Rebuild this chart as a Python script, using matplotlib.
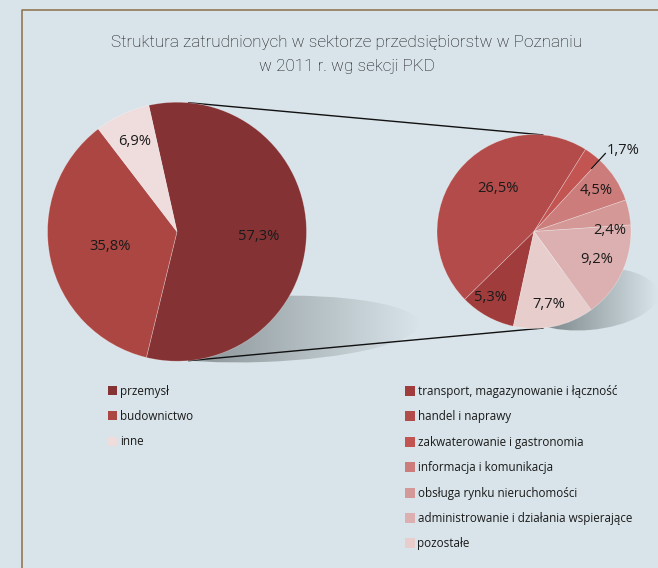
import numpy as np
import matplotlib
matplotlib.use("Agg")
import matplotlib.pyplot as plt
from matplotlib.patches import Ellipse, Rectangle
from matplotlib.colors import LinearSegmentedColormap

# ---------------- data ----------------
title_lines = ["Struktura zatrudnionych w sektorze przedsiębiorstw w Poznaniu",
               "w 2011 r. wg sekcji PKD"]

main_labels = ["przemysł", "budownictwo", "inne"]
main_values = [57.3, 35.8, 6.9]

sub_labels = ["transport, magazynowanie i łączność", "handel i naprawy",
              "zakwaterowanie i gastronomia", "informacja i komunikacja",
              "obsługa rynku nieruchomości", "administrowanie i działania wspierające",
              "pozostałe"]
sub_values = [5.3, 26.5, 1.7, 4.5, 2.4, 9.2, 7.7]

# ---------------- style ----------------
W, H = 658, 568
BG = "#d9e4ea"
main_colors = ["#843234", "#ac4643", "#efdcdc"]
sub_colors = ["#a13c3c", "#b24b49", "#c25451", "#cc7c7a", "#d49896", "#dcb0b0", "#e8cdcd"]

def Y(y):
    return H - y

fig = plt.figure(figsize=(W / 100, H / 100), dpi=100, facecolor=BG)
ax = fig.add_axes([0, 0, 1, 1])
ax.set_facecolor(BG)
ax.axis("off")

lab_font = "Open Sans"

# frame
ax.plot([21.5, 21.5, W], [0, Y(9.5), Y(9.5)], color="#8c6e48", lw=1.1, zorder=0.5,
        solid_capstyle="butt")

# title
for i, line in enumerate(title_lines):
    ax.text(347, Y(42 + 24 * i), line, ha="center", va="center", fontsize=12.3,
            family="Roboto", fontweight="light", color="#111111")

# geometry
c1 = np.array([177.0, Y(231.7)]); r1 = 129.5
c2 = np.array([534.0, Y(231.5)]); r2 = 97.0

# shadows
def shadow(cx, cy, w, h, ang, x0, x1, dark):
    ell = Ellipse((cx, cy), w, h, angle=ang, facecolor="none", edgecolor="none")
    ax.add_patch(ell)
    cmap = LinearSegmentedColormap.from_list("sh", [dark, BG])
    grad = np.linspace(0, 1, 256)[None, :]
    im = ax.imshow(grad, extent=[x0, x1, cy - h, cy + h], cmap=cmap, aspect="auto",
                   zorder=1, interpolation="bilinear")
    im.set_clip_path(ell)

shadow(262, Y(329), 314, 66, 2, 170, 420, "#848e91")
shadow(588, Y(299), 140, 62, 5, 530, 657, "#6f7a7d")

# tangent connector lines
d = c2 - c1
dist = np.hypot(*d)
u = d / dist
perp = np.array([-u[1], u[0]])
k = (r1 - r2) / dist
for s in (1, -1):
    n = k * u + s * np.sqrt(1 - k * k) * perp
    p1 = c1 + r1 * n
    p2 = c2 + r2 * n
    ax.plot([p1[0], p2[0]], [p1[1], p2[1]], color="#111111", lw=1.0, zorder=2)

# pies
w1, _ = ax.pie(main_values, colors=main_colors, startangle=102.6, counterclock=False,
               center=tuple(c1), radius=r1, frame=True,
               wedgeprops=dict(edgecolor=(1, 1, 1, 0.35), linewidth=0.5, zorder=3))
w2, _ = ax.pie(sub_values, colors=sub_colors, startangle=257.7, counterclock=False,
               center=tuple(c2), radius=r2, frame=True,
               wedgeprops=dict(edgecolor=(1, 1, 1, 0.35), linewidth=0.5, zorder=3))
for w in list(w1) + list(w2):
    w.set_zorder(3)

LFS = 10.6

def fmt(v):
    return f"{v:.1f}".replace(".", ",") + "%"

def place(wedges, values, center, r, fracs, offs):
    for w, v, f, o in zip(wedges, values, fracs, offs):
        if f is None:
            continue
        a = np.deg2rad((w.theta1 + w.theta2) / 2 + o)
        ax.text(center[0] + f * r * np.cos(a), center[1] + f * r * np.sin(a), fmt(v),
                ha="center", va="center", fontsize=LFS, family=lab_font,
                color="#1a1a1a", zorder=5)

place(w1, main_values, c1, r1, [0.63, 0.53, 0.77], [-3.0, 0.6, 0.0])
place(w2, sub_values, c2, r2, [0.82, 0.58, None, 0.77, 0.78, 0.71, 0.77],
      [-4.6, -10.8, 0, 0, -10.7, 0.7, -0.8])

# outside label for small slice
ws = w2[2]
a = np.deg2rad((ws.theta1 + ws.theta2) / 2 - 5)
p_in = c2 + 0.88 * r2 * np.array([np.cos(a), np.sin(a)])
p_out = c2 + 1.09 * r2 * np.array([np.cos(a), np.sin(a)])
ax.plot([p_in[0], p_out[0]], [p_in[1], p_out[1]], color="#111111", lw=0.9, zorder=5)
ax.text(p_out[0] + 1, p_out[1] + 3, fmt(sub_values[2]), ha="left", va="center",
        fontsize=LFS, family=lab_font, color="#1a1a1a", zorder=5)

# legends
def legend(x, y0, step, labels, colors, sq):
    for i, (lab, col) in enumerate(zip(labels, colors)):
        yc = Y(y0 + i * step)
        ax.add_patch(Rectangle((x, yc - sq / 2), sq, sq, facecolor=col, edgecolor="none",
                               zorder=4))
        ax.text(x + sq + 2.5, yc - 0.5, lab, ha="left", va="center", fontsize=8.4,
                family=lab_font, color="#1a1a1a", zorder=4)

legend(108.3, 390.7, 25.2, main_labels, main_colors, 9.0)
legend(405.0, 391.0, 25.4, sub_labels, sub_colors, 10.0)

ax.set_xlim(0, W)
ax.set_ylim(0, H)
ax.set_aspect("auto")

fig.savefig("out.png", dpi=100, facecolor=BG)
